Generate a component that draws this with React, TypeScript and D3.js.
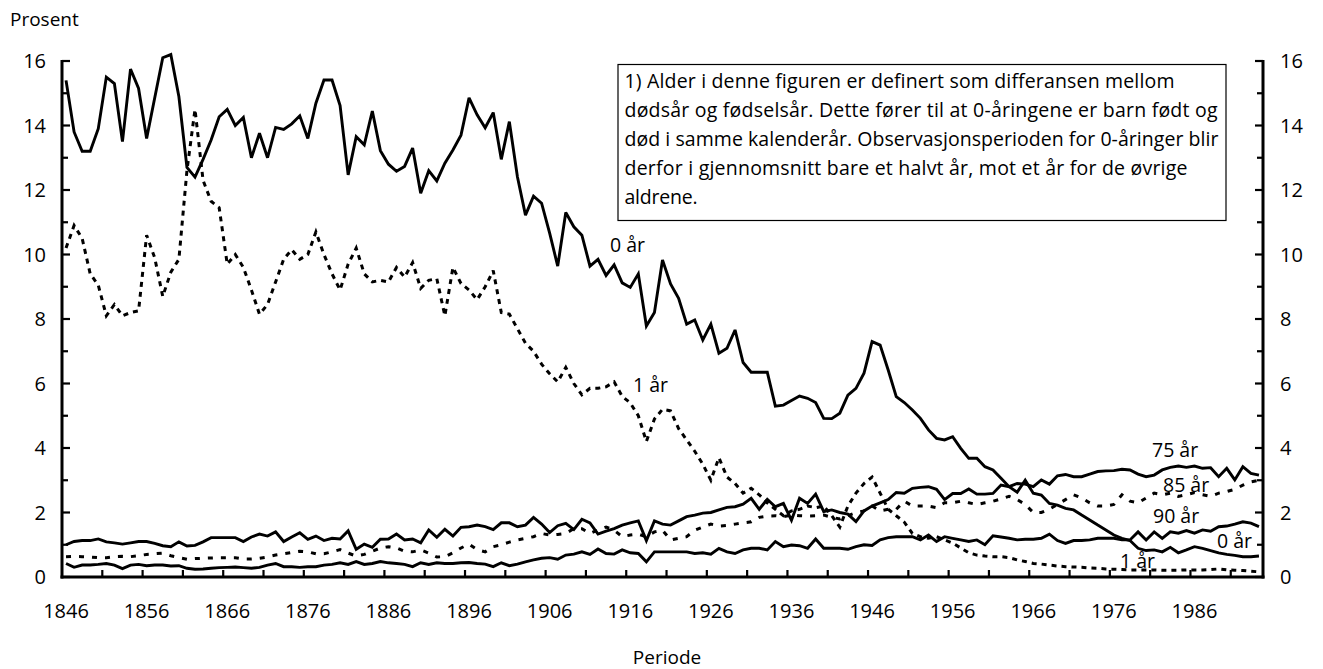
import React from 'react';
import * as d3 from 'd3';

// Years (categories) 1846–1994
const years: number[] = d3.range(1846, 1995);

// Share of deaths (Prosent) by age
const age0: number[] = [
  15.4, 13.8, 13.2, 13.2, 13.9, 15.5, 15.3, 13.5, 15.75, 15.15,
  13.6, 14.85, 16.1, 16.2, 14.9, 12.7, 12.4, 12.95, 13.55, 14.27,
  14.5, 14.0, 14.25, 13.0, 13.76, 13.0, 13.94, 13.88, 14.05, 14.3,
  13.6, 14.69, 15.41, 15.41, 14.62, 12.47, 13.65, 13.4, 14.45, 13.22,
  12.8, 12.58, 12.73, 13.3, 11.9, 12.6, 12.28, 12.83, 13.24, 13.7,
  14.86, 14.33, 13.93, 14.4, 12.95, 14.12, 12.41, 11.22, 11.81, 11.59,
  10.66, 9.64, 11.3, 10.86, 10.6, 9.64, 9.85, 9.35, 9.68, 9.12,
  8.98, 9.4, 7.78, 8.2, 9.83, 9.09, 8.64, 7.84, 7.97, 7.35,
  7.84, 6.94, 7.09, 7.66, 6.65, 6.35, 6.35, 6.35, 5.3, 5.33,
  5.47, 5.61, 5.54, 5.41, 4.92, 4.91, 5.08, 5.64, 5.85, 6.32,
  7.3, 7.19, 6.42, 5.59, 5.41, 5.18, 4.92, 4.56, 4.3, 4.25,
  4.35, 3.99, 3.68, 3.68, 3.42, 3.32, 3.06, 2.8, 2.63, 3.0,
  2.6, 2.54, 2.28, 2.23, 2.13, 2.08, 1.92, 1.77, 1.61, 1.46,
  1.3, 1.2, 1.13, 0.89, 0.82, 0.84, 0.78, 0.92, 0.75, 0.84,
  0.94, 0.89, 0.82, 0.75, 0.7, 0.67, 0.63, 0.63, 0.65,
];

const age1: number[] = [
  10.2, 10.9, 10.5, 9.4, 9.05, 8.1, 8.45, 8.1, 8.2, 8.25,
  10.6, 9.9, 8.7, 9.45, 9.85, 12.6, 14.5, 12.3, 11.65, 11.45,
  9.7, 10.0, 9.6, 8.9, 8.15, 8.45, 9.15, 9.85, 10.15, 9.85,
  10.0, 10.7, 10.0, 9.4, 8.9, 9.7, 10.2, 9.4, 9.15, 9.2,
  9.15, 9.6, 9.3, 9.75, 8.95, 9.2, 9.25, 8.1, 9.6, 9.1,
  8.9, 8.6, 9.0, 9.5, 8.2, 8.15, 7.7, 7.25, 7.0, 6.6,
  6.3, 6.05, 6.5, 6.0, 5.65, 5.85, 5.85, 5.9, 6.05, 5.6,
  5.4, 5.0, 4.2, 4.9, 5.2, 5.15, 4.6, 4.25, 3.9, 3.5,
  3.0, 3.7, 3.1, 2.9, 2.6, 2.75, 2.55, 2.3, 2.1, 1.9,
  2.05, 2.1, 2.2, 2.15, 2.2, 1.9, 1.55, 2.2, 2.6, 2.9,
  3.1, 2.6, 2.1, 1.9, 1.7, 1.35, 1.25, 1.2, 1.25, 1.15,
  1.05, 0.9, 0.75, 0.68, 0.65, 0.63, 0.63, 0.6, 0.53, 0.48,
  0.42, 0.4, 0.37, 0.34, 0.32, 0.31, 0.3, 0.28, 0.27, 0.25,
  0.24, 0.23, 0.22, 0.22, 0.22, 0.22, 0.21, 0.21, 0.21, 0.22,
  0.22, 0.22, 0.23, 0.25, 0.22, 0.21, 0.2, 0.18, 0.16,
];

const age75: number[] = [
  1.0, 1.1, 1.13, 1.13, 1.18, 1.09, 1.06, 1.02, 1.06, 1.1,
  1.1, 1.04, 0.97, 0.94, 1.09, 0.96, 0.98, 1.09, 1.22, 1.22,
  1.22, 1.22, 1.1, 1.24, 1.33, 1.27, 1.4, 1.1, 1.24, 1.37,
  1.17, 1.27, 1.13, 1.2, 1.18, 1.43, 0.86, 1.02, 0.92, 1.17,
  1.18, 1.33, 1.15, 1.18, 1.06, 1.46, 1.23, 1.48, 1.27, 1.54,
  1.56, 1.61, 1.56, 1.47, 1.68, 1.68, 1.56, 1.61, 1.85, 1.64,
  1.38, 1.59, 1.66, 1.47, 1.79, 1.68, 1.33, 1.42, 1.5, 1.61,
  1.68, 1.74, 1.13, 1.74, 1.64, 1.61, 1.74, 1.87, 1.92, 1.98,
  2.0, 2.08, 2.16, 2.18, 2.26, 2.44, 2.1, 2.41, 2.18, 2.28,
  1.76, 2.44, 2.28, 2.57, 2.03, 2.08, 2.0, 1.95, 1.72, 2.05,
  2.2, 2.3, 2.4, 2.62, 2.6, 2.75, 2.78, 2.8, 2.72, 2.4,
  2.59, 2.59, 2.73, 2.57, 2.57, 2.59, 2.85, 2.8, 2.9, 2.88,
  2.8, 3.01, 2.88, 3.14, 3.18, 3.11, 3.11, 3.19, 3.27, 3.29,
  3.3, 3.34, 3.32, 3.19, 3.11, 3.16, 3.32, 3.4, 3.44, 3.4,
  3.44, 3.37, 3.39, 3.11, 3.37, 3.01, 3.42, 3.21, 3.16,
];

const age85: number[] = [
  0.63, 0.64, 0.63, 0.62, 0.6, 0.6, 0.63, 0.64, 0.63, 0.66,
  0.7, 0.72, 0.74, 0.66, 0.6, 0.55, 0.57, 0.58, 0.59, 0.6,
  0.6, 0.6, 0.56, 0.56, 0.58, 0.62, 0.68, 0.72, 0.76, 0.8,
  0.78, 0.72, 0.72, 0.78, 0.85, 0.74, 0.65, 0.7, 0.8, 0.9,
  0.94, 0.9, 0.8, 0.78, 0.84, 0.74, 0.62, 0.63, 0.75, 0.9,
  1.02, 0.85, 0.78, 0.94, 1.0, 1.08, 1.15, 1.2, 1.25, 1.35,
  1.3, 1.32, 1.35, 1.5, 1.5, 1.35, 1.46, 1.55, 1.45, 1.25,
  1.3, 1.33, 1.25, 1.4, 1.45, 1.15, 1.2, 1.25, 1.45, 1.55,
  1.64, 1.58, 1.6, 1.64, 1.68, 1.71, 1.85, 1.89, 1.9, 1.87,
  1.92, 1.9, 1.89, 1.9, 1.92, 1.85, 1.8, 1.9, 2.0, 2.05,
  2.2, 2.05, 2.1, 2.1, 2.35, 2.2, 2.2, 2.2, 2.15, 2.3,
  2.3, 2.35, 2.3, 2.25, 2.3, 2.35, 2.42, 2.5, 2.4, 2.25,
  2.0, 2.0, 2.1, 2.25, 2.4, 2.55, 2.45, 2.3, 2.2, 2.2,
  2.25, 2.55, 2.35, 2.3, 2.45, 2.6, 2.55, 2.6, 2.5, 2.55,
  2.62, 2.55, 2.5, 2.6, 2.65, 2.72, 2.85, 2.95, 3.0,
];

const age90: number[] = [
  0.42, 0.3, 0.37, 0.37, 0.39, 0.42, 0.37, 0.26, 0.37, 0.39,
  0.35, 0.37, 0.37, 0.34, 0.35, 0.27, 0.24, 0.25, 0.27, 0.29,
  0.3, 0.31, 0.29, 0.27, 0.3, 0.37, 0.42, 0.32, 0.32, 0.3,
  0.32, 0.32, 0.37, 0.39, 0.44, 0.39, 0.48, 0.39, 0.42, 0.48,
  0.44, 0.42, 0.39, 0.32, 0.44, 0.39, 0.44, 0.42, 0.42, 0.44,
  0.45, 0.42, 0.4, 0.32, 0.44, 0.35, 0.4, 0.47, 0.53, 0.58,
  0.6, 0.55, 0.68, 0.71, 0.78, 0.7, 0.87, 0.73, 0.71, 0.84,
  0.75, 0.73, 0.47, 0.78, 0.78, 0.78, 0.78, 0.78, 0.73, 0.75,
  0.71, 0.89, 0.78, 0.73, 0.84, 0.89, 0.89, 0.84, 1.1, 0.94,
  0.99, 0.97, 0.89, 1.18, 0.89, 0.89, 0.89, 0.86, 0.94, 1.0,
  0.98, 1.15, 1.22, 1.25, 1.25, 1.25, 1.15, 1.3, 1.1, 1.25,
  1.2, 1.15, 1.1, 1.15, 1.0, 1.28, 1.24, 1.2, 1.15, 1.17,
  1.17, 1.2, 1.33, 1.13, 1.04, 1.13, 1.13, 1.15, 1.2, 1.2,
  1.2, 1.15, 1.15, 1.4, 1.15, 1.4, 1.2, 1.4, 1.36, 1.44,
  1.36, 1.46, 1.42, 1.56, 1.58, 1.64, 1.71, 1.67, 1.56,
];

const xTickLabels: number[] = [1846, 1856, 1866, 1876, 1886, 1896, 1906, 1916, 1926, 1936, 1946, 1956, 1966, 1976, 1986];
const yTickLabels: number[] = [0, 2, 4, 6, 8, 10, 12, 14, 16];
const yMinorTicks: number[] = [1, 3, 5, 7, 9, 11, 13, 15];

const noteLines: string[] = [
  '1) Alder i denne figuren er definert som differansen mellom',
  'dødsår og fødselsår. Dette fører til at 0-åringene er barn født og',
  'død i samme kalenderår. Observasjonsperioden for 0-åringer blir',
  'derfor i gjennomsnitt bare et halvt år, mot et år for de øvrige',
  'aldrene.',
];
const noteWidths: number[] = [550, 593, 594, 563, 73];

const FONT = "'Open Sans', 'Noto Sans', sans-serif";

export default function App() {
  const W = 1323;
  const H = 669;
  const left = 62;
  const right = 1263;
  const bottom = 577;
  const top = 61;

  const x = d3.scalePoint<number>().domain(years).range([left, right]).padding(0.5);
  const y = d3.scaleLinear().domain([0, 16]).range([bottom, top]);
  const step = x.step();

  const lineGen = d3
    .line<number>()
    .x((_, i) => x(years[i]) as number)
    .y((d) => y(d));

  const series = [
    { key: 'age90', values: age90, dash: undefined as string | undefined, w: 2.9 },
    { key: 'age85', values: age85, dash: '5,8', w: 3 },
    { key: 'age75', values: age75, dash: undefined, w: 2.9 },
    { key: 'age1', values: age1, dash: '5,5', w: 3 },
    { key: 'age0', values: age0, dash: undefined, w: 2.9 },
  ];

  // x tick marks at category boundaries every 5 years
  const xTickYears = years.filter((yr) => (yr - 1846) % 5 === 0 && yr !== 1846);

  const fsTick = 20;
  const fs = 19.5;

  return (
    <svg
      width={W}
      height={H}
      style={{ position: 'absolute', left: 0, top: 0, background: '#fff' }}
      fontFamily={FONT}
    >
      <rect x={0} y={0} width={W} height={H} fill="#fff" />

      {/* Series */}
      {series.map((s) => (
        <path
          key={s.key}
          d={lineGen(s.values) || ''}
          fill="none"
          stroke="#000"
          strokeWidth={s.w}
          strokeDasharray={s.dash}
          strokeLinejoin="miter"
          strokeMiterlimit={3}
        />
      ))}

      {/* Axes */}
      <line x1={left} x2={left} y1={top - 1} y2={bottom + 1.5} stroke="#000" strokeWidth={3} />
      <line x1={right} x2={right} y1={top - 1} y2={bottom + 1.5} stroke="#000" strokeWidth={3} />
      <line x1={left - 1.5} x2={right + 1.5} y1={bottom} y2={bottom} stroke="#000" strokeWidth={3} />

      {yTickLabels.map((v) => (
        <g key={'yt' + v}>
          <line x1={left} x2={left + 8} y1={y(v)} y2={y(v)} stroke="#000" strokeWidth={2.2} />
          <line x1={right - 8} x2={right} y1={y(v)} y2={y(v)} stroke="#000" strokeWidth={2.2} />
          <text x={46} y={y(v) + 7} textAnchor="end" fontSize={fsTick} fill="#000">
            {v}
          </text>
          <text x={1280} y={y(v) + 7} textAnchor="start" fontSize={fsTick} fill="#000">
            {v}
          </text>
        </g>
      ))}
      {yMinorTicks.map((v) => (
        <g key={'ym' + v}>
          <line x1={left} x2={left + 6} y1={y(v)} y2={y(v)} stroke="#000" strokeWidth={2.2} />
          <line x1={right - 6} x2={right} y1={y(v)} y2={y(v)} stroke="#000" strokeWidth={2.2} />
        </g>
      ))}

      {xTickYears.map((yr) => {
        const bx = (x(yr) as number) - step / 2;
        return <line key={'xt' + yr} x1={bx} x2={bx} y1={bottom} y2={bottom - 7} stroke="#000" strokeWidth={2.2} />;
      })}
      {xTickLabels.map((yr) => (
        <text key={'xl' + yr} x={x(yr) as number} y={618} textAnchor="middle" fontSize={fsTick} fill="#000">
          {yr}
        </text>
      ))}

      {/* Axis titles */}
      <text x={10} y={26} fontSize={19} fill="#000">
        Prosent
      </text>
      <text x={667} y={664} textAnchor="middle" fontSize={19} fill="#000">
        Periode
      </text>

      {/* Note box */}
      <rect x={618} y={64.5} width={608} height={156} fill="#fff" stroke="#000" strokeWidth={1.2} />
      {noteLines.map((t, i) => (
        <text
          key={'n' + i}
          x={624.5}
          y={87.5 + i * 29.2}
          fontSize={fs}
          fill="#000"
          textLength={noteWidths[i]}
          lengthAdjust="spacing"
        >
          {t}
        </text>
      ))}

      {/* Series labels */}
      <text x={610} y={252} fontSize={fs} fill="#000">0 år</text>
      <text x={633} y={392} fontSize={fs} fill="#000">1 år</text>
      <text x={1152} y={457} fontSize={fs} fill="#000">75 år</text>
      <text x={1163} y={492} fontSize={fs} fill="#000">85 år</text>
      <text x={1153} y={523} fontSize={fs} fill="#000">90 år</text>
      <text x={1217} y={548} fontSize={fs} fill="#000">0 år</text>
      <text x={1120} y={568} fontSize={fs} fill="#000">1 år</text>
    </svg>
  );
}
